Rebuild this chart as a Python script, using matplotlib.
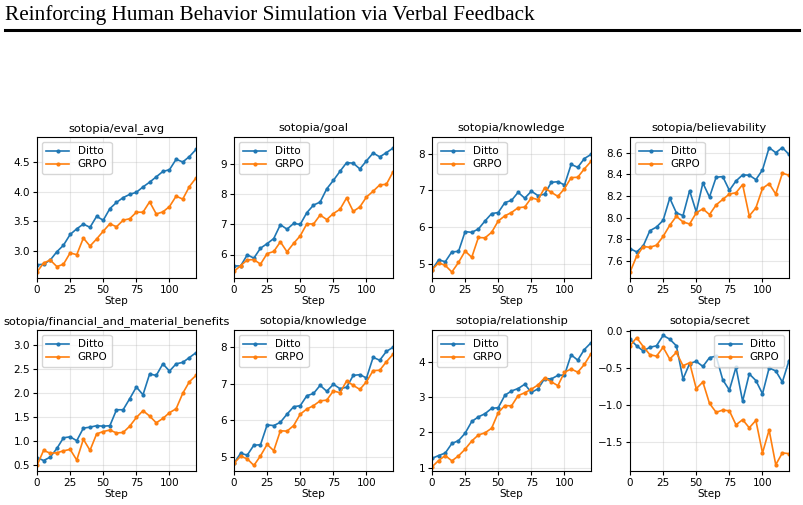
import numpy as np
import matplotlib.pyplot as plt
from matplotlib.lines import Line2D
from matplotlib.ticker import MultipleLocator

steps = list(range(0, 121, 5))

eval_avg_ditto = [2.77, 2.78, 2.85, 2.99, 3.10, 3.28, 3.375, 3.455, 3.40, 3.585, 3.52, 3.715, 3.82,
                  3.90, 3.955, 3.99, 4.08, 4.16, 4.25, 4.34, 4.37, 4.545, 4.50, 4.59, 4.71]
eval_avg_grpo = [2.65, 2.80, 2.85, 2.74, 2.78, 2.97, 2.94, 3.22, 3.085, 3.205, 3.335, 3.46, 3.41,
                 3.52, 3.545, 3.655, 3.655, 3.83, 3.625, 3.66, 3.75, 3.925, 3.875, 4.085, 4.23]

goal_ditto = [5.62, 5.62, 5.99, 5.88, 6.21, 6.36, 6.53, 6.99, 6.84, 7.03, 7.0, 7.39, 7.64,
              7.74, 8.18, 8.46, 8.76, 9.05, 9.03, 8.84, 9.11, 9.37, 9.24, 9.38, 9.53]
goal_grpo = [5.44, 5.63, 5.82, 5.83, 5.68, 6.03, 6.10, 6.42, 6.09, 6.37, 6.62, 7.02, 7.01,
             7.31, 7.16, 7.36, 7.5, 7.88, 7.43, 7.58, 7.91, 8.10, 8.31, 8.33, 8.74]

knowledge_ditto = [4.84, 5.11, 5.06, 5.33, 5.34, 5.88, 5.86, 5.95, 6.17, 6.37, 6.40, 6.67, 6.73,
                   6.95, 6.79, 6.98, 6.86, 6.90, 7.22, 7.24, 7.15, 7.71, 7.63, 7.87, 7.98]
knowledge_grpo = [4.84, 5.03, 4.96, 4.78, 5.04, 5.35, 5.18, 5.72, 5.71, 5.86, 6.17, 6.31, 6.40,
                  6.53, 6.55, 6.80, 6.75, 7.07, 6.95, 6.84, 7.05, 7.35, 7.36, 7.59, 7.79]

believability_ditto = [7.714, 7.683, 7.739, 7.879, 7.913, 7.975, 8.180, 8.044, 8.019, 8.249, 8.053,
                       8.320, 8.190, 8.373, 8.379, 8.252, 8.339, 8.395, 8.392, 8.351, 8.441, 8.647,
                       8.600, 8.647, 8.584]
believability_grpo = [7.496, 7.643, 7.733, 7.726, 7.745, 7.826, 7.929, 8.012, 7.960, 7.941, 8.044,
                      8.081, 8.028, 8.118, 8.168, 8.218, 8.230, 8.305, 8.016, 8.090, 8.270, 8.314,
                      8.218, 8.410, 8.392]

financial_ditto = [0.66, 0.60, 0.67, 0.85, 1.07, 1.09, 1.01, 1.27, 1.29, 1.32, 1.31, 1.32, 1.65,
                   1.65, 1.88, 2.12, 1.96, 2.39, 2.36, 2.60, 2.45, 2.60, 2.63, 2.73, 2.83]
financial_grpo = [0.50, 0.81, 0.75, 0.76, 0.80, 0.83, 0.61, 1.04, 0.81, 1.15, 1.20, 1.23, 1.17,
                  1.18, 1.31, 1.49, 1.63, 1.52, 1.38, 1.47, 1.59, 1.67, 1.99, 2.23, 2.36]

relationship_ditto = [1.27, 1.35, 1.42, 1.69, 1.77, 1.98, 2.31, 2.44, 2.53, 2.68, 2.70, 3.05, 3.17,
                      3.24, 3.36, 3.13, 3.23, 3.52, 3.51, 3.61, 3.62, 4.19, 4.04, 4.34, 4.53]
relationship_grpo = [1.03, 1.21, 1.35, 1.20, 1.34, 1.53, 1.76, 1.93, 1.99, 2.12, 2.56, 2.76, 2.75,
                     3.04, 3.12, 3.22, 3.34, 3.54, 3.43, 3.32, 3.70, 3.79, 3.70, 3.92, 4.22]

secret_ditto = [-0.11, -0.20, -0.27, -0.22, -0.20, -0.06, -0.11, -0.20, -0.65, -0.44, -0.41, -0.48,
                -0.36, -0.34, -0.66, -0.80, -0.49, -0.95, -0.58, -0.67, -0.85, -0.50, -0.54, -0.69, -0.40]
secret_grpo = [-0.20, -0.09, -0.21, -0.32, -0.34, -0.22, -0.38, -0.29, -0.47, -0.43, -0.78, -0.69,
               -0.98, -1.10, -1.07, -1.08, -1.27, -1.20, -1.31, -1.21, -1.65, -1.34, -1.81, -1.65, -1.66]

# title, ditto, grpo, ylim, y tick step, legend loc
panels = [
    ('sotopia/eval_avg', eval_avg_ditto, eval_avg_grpo, (2.548, 4.92), 0.5, 'upper left'),
    ('sotopia/goal', goal_ditto, goal_grpo, (5.22, 9.9), 1, 'upper left'),
    ('sotopia/knowledge', knowledge_ditto, knowledge_grpo, (4.617, 8.456), 1, 'upper left'),
    ('sotopia/believability', believability_ditto, believability_grpo, (7.442, 8.745), 0.2, 'upper left'),
    ('sotopia/financial_and_material_benefits', financial_ditto, financial_grpo, (0.383, 3.30), 0.5, 'upper left'),
    ('sotopia/knowledge', knowledge_ditto, knowledge_grpo, (4.63, 8.45), 1, 'upper left'),
    ('sotopia/relationship', relationship_ditto, relationship_grpo, (0.914, 4.89), 1, 'upper left'),
    ('sotopia/secret', secret_ditto, secret_grpo, (-1.895, 0.014), 0.5, 'upper right'),
]

plt.rcParams.update({'font.size': 7.5})
fig = plt.figure(figsize=(8.04, 5.05), dpi=100)

# page header
fig.text(0.006, 1 - 20 / 505, 'Reinforcing Human Behavior Simulation via Verbal Feedback',
         fontsize=15.3, family='Liberation Serif', va='baseline', ha='left')
fig.add_artist(Line2D([0.006, 0.994], [1 - 29.7 / 505, 1 - 29.7 / 505], color='black', linewidth=2.2))

lefts = [37, 234, 432, 630]
width = 159
rows = [(137, 278), (330, 471)]

for i, (title, ditto, grpo, ylim, ystep, loc) in enumerate(panels):
    r, c = divmod(i, 4)
    top, bottom = rows[r]
    ax = fig.add_axes([lefts[c] / 804, 1 - bottom / 505, width / 804, (bottom - top) / 505])
    ax.plot(steps, ditto, marker='.', markersize=4, linewidth=1.2, label='Ditto')
    ax.plot(steps, grpo, marker='.', markersize=4, linewidth=1.2, label='GRPO')
    ax.set_xlim(0, 120)
    ax.set_ylim(*ylim)
    ax.set_xticks([0, 25, 50, 75, 100])
    ax.yaxis.set_major_locator(MultipleLocator(ystep))
    ax.set_title(title, fontsize=8.2, pad=4)
    ax.set_xlabel('Step', fontsize=7.5, labelpad=1)
    ax.grid(True, alpha=0.3)
    ax.tick_params(labelsize=7.5, pad=2, length=3)
    ax.legend(loc=loc, fontsize=7.5, handlelength=2.2, borderpad=0.4, labelspacing=0.3)

plt.savefig('out.png', dpi=100)
